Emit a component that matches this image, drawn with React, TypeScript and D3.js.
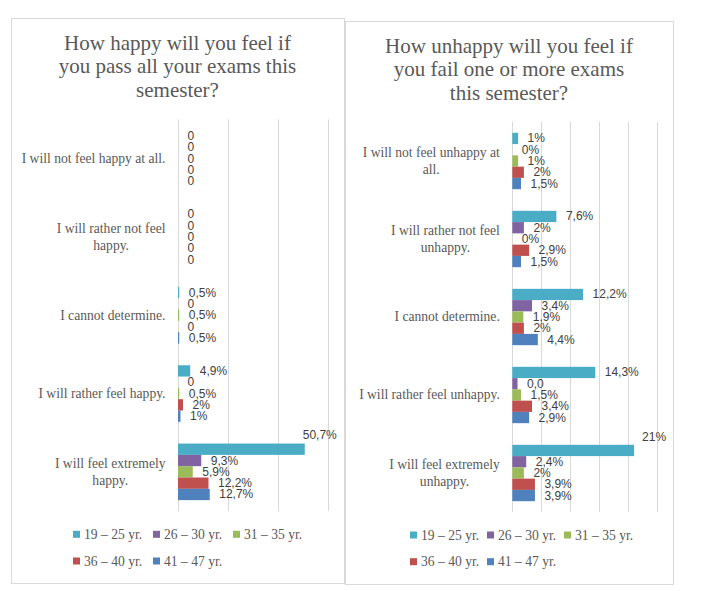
import React from "react";
import * as d3 from "d3";

// ---------- data ----------
const ageGroups = ["19 – 25 yr.", "26 – 30 yr.", "31 – 35 yr.", "36 – 40 yr.", "41 – 47 yr."];
const seriesColors = ["#4BACC6", "#8064A2", "#9BBB59", "#C0504D", "#4F81BD"];

const happyTitle = ["How happy will you feel if", "you pass all your exams this", "semester?"];
const happyCategories = [
  "I will not feel happy at all.",
  "I will rather not feel\nhappy.",
  "I cannot determine.",
  "I will rather feel happy.",
  "I will feel extremely\nhappy.",
];
const happy19to25 = [0, 0, 0.5, 4.9, 50.7];
const happy26to30 = [0, 0, 0, 0, 9.3];
const happy31to35 = [0, 0, 0.5, 0.5, 5.9];
const happy36to40 = [0, 0, 0, 2, 12.2];
const happy41to47 = [0, 0, 0.5, 1, 12.7];
const happyLabels19to25 = ["0", "0", "0,5%", "4,9%", "50,7%"];
const happyLabels26to30 = ["0", "0", "0", "0", "9,3%"];
const happyLabels31to35 = ["0", "0", "0,5%", "0,5%", "5,9%"];
const happyLabels36to40 = ["0", "0", "0", "2%", "12,2%"];
const happyLabels41to47 = ["0", "0", "0,5%", "1%", "12,7%"];
const happyTicks = [0, 20, 40, 60];

const unhappyTitle = ["How unhappy will you feel if", "you fail one or more exams", "this semester?"];
const unhappyCategories = [
  "I will not feel unhappy at\nall.",
  "I will rather not feel\nunhappy.",
  "I cannot determine.",
  "I will rather feel unhappy.",
  "I will feel extremely\nunhappy.",
];
const unhappy19to25 = [1, 7.6, 12.2, 14.3, 21];
const unhappy26to30 = [0, 2, 3.4, 0.9, 2.4];
const unhappy31to35 = [1, 0, 1.9, 1.5, 2];
const unhappy36to40 = [2, 2.9, 2, 3.4, 3.9];
const unhappy41to47 = [1.5, 1.5, 4.4, 2.9, 3.9];
const unhappyLabels19to25 = ["1%", "7,6%", "12,2%", "14,3%", "21%"];
const unhappyLabels26to30 = ["0%", "2%", "3,4%", "0,0", "2,4%"];
const unhappyLabels31to35 = ["1%", "0%", "1,9%", "1,5%", "2%"];
const unhappyLabels36to40 = ["2%", "2,9%", "2%", "3,4%", "3,9%"];
const unhappyLabels41to47 = ["1,5%", "1,5%", "4,4%", "2,9%", "3,9%"];
const unhappyTicks = [0, 5, 10, 15, 20, 25];

// ---------- helpers ----------
const SERIF = '"Liberation Serif", "Times New Roman", serif';
const SANS = '"Liberation Sans", Arial, sans-serif';
const TEXT_GREY = "#595959";
const LABEL_GREY = "#404040";
const GRID = "#d9d9d9";

let canvasCtx: CanvasRenderingContext2D | null = null;
function measure(text: string, font: string): number {
  if (typeof document === "undefined") return text.length * 6;
  if (!canvasCtx) canvasCtx = document.createElement("canvas").getContext("2d");
  if (!canvasCtx) return text.length * 6;
  canvasCtx.font = font;
  return canvasCtx.measureText(text).width;
}

type ChartProps = {
  box: { x: number; y: number; w: number; h: number };
  title: string[];
  categories: string[];
  values: number[][];
  labels: string[][];
  ticks: number[];
  xLeft: number;
  xRight: number;
  plotTop: number;
  plotBottom: number;
  overflowDx: number;
  overflowDy: number;
  legendX: number;
  legendDx: number;
  legendY1: number;
  legendY2: number;
};

function BarChart(p: ChartProps) {
  const x = d3
    .scaleLinear()
    .domain([0, p.ticks[p.ticks.length - 1]])
    .range([p.xLeft, p.xRight]);
  const y = d3
    .scaleBand<number>()
    .domain(d3.range(p.categories.length))
    .range([p.plotTop, p.plotBottom])
    .padding(0);
  const inner = d3
    .scaleBand<number>()
    .domain(d3.range(p.values.length))
    .range([0, y.bandwidth()])
    .paddingInner(0)
    .paddingOuter(0.96);

  const catFontSize = 13.6;
  const catFont = `${catFontSize}px ${SERIF}`;
  const labelFont = `12px ${SANS}`;
  const catRight = p.xLeft - 12.5;
  const lineH = 17.3;
  const titleCx = p.box.x + p.box.w / 2;

  return (
    <g>
      <rect
        x={p.box.x + 0.5}
        y={p.box.y + 0.5}
        width={p.box.w}
        height={p.box.h}
        fill="#ffffff"
        stroke={GRID}
        strokeWidth={1}
      />
      {p.title.map((t, i) => (
        <text
          key={i}
          x={titleCx}
          y={p.box.y + 32 + i * 23.3}
          textAnchor="middle"
          fontFamily={SERIF}
          fontSize={21}
          fill={TEXT_GREY}
        >
          {t}
        </text>
      ))}
      {p.ticks.map((t) => (
        <line
          key={t}
          x1={Math.round(x(t)) + 0.5}
          x2={Math.round(x(t)) + 0.5}
          y1={p.plotTop}
          y2={p.plotBottom}
          stroke={GRID}
          strokeWidth={1}
        />
      ))}
      {p.categories.map((c, ci) => {
        const lines = c.split("\n");
        const widths = lines.map((l) => measure(l, catFont));
        const maxW = Math.max(...widths);
        const cx = catRight - maxW / 2;
        const cy = (y(ci) as number) + y.bandwidth() / 2;
        const firstBase = cy - ((lines.length - 1) * lineH) / 2 + catFontSize * 0.33;
        return (
          <g key={ci}>
            {lines.map((l, li) => (
              <text
                key={li}
                x={lines.length > 1 ? cx : catRight}
                y={firstBase + li * lineH}
                textAnchor={lines.length > 1 ? "middle" : "end"}
                fontFamily={SERIF}
                fontSize={catFontSize}
                fill={TEXT_GREY}
              >
                {l}
              </text>
            ))}
          </g>
        );
      })}
      {p.values.map((series, si) =>
        series.map((v, ci) => {
          const by = (y(ci) as number) + (inner(si) as number);
          const bh = inner.bandwidth();
          const bx = x(0);
          const bw = x(v) - x(0);
          const label = p.labels[si][ci];
          const lw = measure(label, labelFont);
          const end = bx + bw;
          const overflow = end + 9.5 + lw > p.xRight;
          const lx = overflow ? end + p.overflowDx : end + 9.5;
          const ly = overflow ? by + p.overflowDy : by + bh / 2;
          return (
            <g key={`${si}-${ci}`}>
              {bw > 0 && <rect x={bx} y={by} width={bw} height={bh} fill={seriesColors[si]} />}
              <text
                x={lx}
                y={ly}
                dominantBaseline="central"
                fontFamily={SANS}
                fontSize={12}
                fill={LABEL_GREY}
              >
                {label}
              </text>
            </g>
          );
        })
      )}
      {ageGroups.map((g, gi) => {
        const row = gi < 3 ? 0 : 1;
        const col = gi < 3 ? gi : gi - 3;
        const lx = p.legendX + col * p.legendDx;
        const ly = row === 0 ? p.legendY1 : p.legendY2;
        return (
          <g key={gi}>
            <rect x={lx} y={ly - 3.5} width={7} height={7} fill={seriesColors[gi]} />
            <text
              x={lx + 11}
              y={ly + 4.5}
              fontFamily={SERIF}
              fontSize={13.6}
              fill={TEXT_GREY}
            >
              {g}
            </text>
          </g>
        );
      })}
    </g>
  );
}

export default function App() {
  return (
    <svg
      width={702}
      height={591}
      viewBox="0 0 702 591"
      style={{ position: "absolute", left: 0, top: 0, background: "#ffffff" }}
    >
      <rect x={0} y={0} width={702} height={591} fill="#ffffff" />
      <BarChart
        box={{ x: 11, y: 18, w: 333, h: 565 }}
        title={happyTitle}
        categories={happyCategories}
        values={[happy19to25, happy26to30, happy31to35, happy36to40, happy41to47]}
        labels={[happyLabels19to25, happyLabels26to30, happyLabels31to35, happyLabels36to40, happyLabels41to47]}
        ticks={happyTicks}
        xLeft={178}
        xRight={328}
        plotTop={119.5}
        plotBottom={511}
        overflowDx={-2}
        overflowDy={-9}
        legendX={73}
        legendDx={80}
        legendY1={534.3}
        legendY2={561}
      />
      <BarChart
        box={{ x: 345, y: 21, w: 328, h: 563 }}
        title={unhappyTitle}
        categories={unhappyCategories}
        values={[unhappy19to25, unhappy26to30, unhappy31to35, unhappy36to40, unhappy41to47]}
        labels={[unhappyLabels19to25, unhappyLabels26to30, unhappyLabels31to35, unhappyLabels36to40, unhappyLabels41to47]}
        ticks={unhappyTicks}
        xLeft={512.3}
        xRight={657.3}
        plotTop={122}
        plotBottom={512}
        overflowDx={8}
        overflowDy={-8}
        legendX={410}
        legendDx={77}
        legendY1={535}
        legendY2={561.7}
      />
    </svg>
  );
}
